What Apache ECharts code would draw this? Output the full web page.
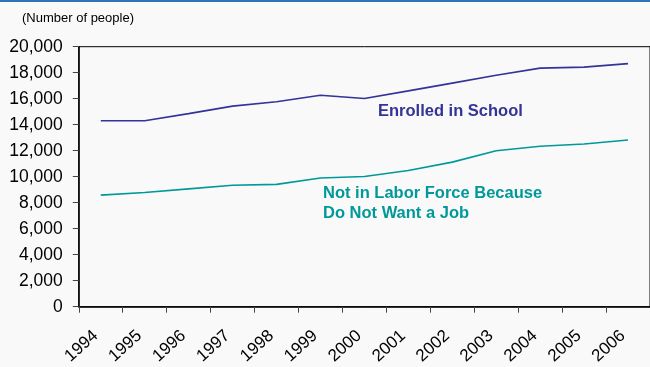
<!DOCTYPE html>
<html>
<head>
<meta charset="utf-8">
<script src="https://cdn.jsdelivr.net/npm/echarts@6/dist/echarts.min.js"></script>
<style>
html,body{margin:0;padding:0;background:#f9f9f9;}
#c{width:650px;height:367px;}
</style>
</head>
<body>
<div id="c"></div>
<script>
const years = ['1994','1995','1996','1997','1998','1999','2000','2001','2002','2003','2004','2005','2006'];
const enrolled = [14300, 14300, 14850, 15430, 15770, 16270, 16020, 16600, 17200, 17800, 18350, 18430, 18700];
const notWant = [8580, 8780, 9060, 9340, 9410, 9900, 10020, 10480, 11120, 12000, 12340, 12510, 12820];
const yTicks = [0, 2000, 4000, 6000, 8000, 10000, 12000, 14000, 16000, 18000, 20000];
const unitLabel = '(Number of people)';
const enrolledLabel = 'Enrolled in School';
const notWantLabel = 'Not in Labor Force Because\nDo Not Want a Job';

const FONT = '"Liberation Sans", Arial, sans-serif';
const chart = echarts.init(document.getElementById('c'));
chart.setOption({
  backgroundColor: '#f9f9f9',
  animation: false,
  grid: {left: 78.8, top: 46.7, right: -5, bottom: 57.7, show: true, borderColor: '#000', borderWidth: 1, backgroundColor: 'transparent'},
  xAxis: {
    type: 'category', data: years, boundaryGap: true,
    axisLine: {lineStyle: {color: '#000', width: 1.5}},
    axisTick: {show: true, length: 6, lineStyle: {color: '#444'}},
    axisLabel: {rotate: 42, margin: 22, padding: [0, 7, 0, 0], color: '#000', fontFamily: FONT, fontSize: 17, interval: 0}
  },
  yAxis: {
    type: 'value', min: yTicks[0], max: yTicks[yTicks.length - 1], interval: 2000,
    axisLine: {show: true, lineStyle: {color: '#000', width: 1.5}},
    axisTick: {show: true, length: 6, lineStyle: {color: '#444'}},
    splitLine: {show: false},
    axisLabel: {margin: 16, color: '#000', fontFamily: FONT, fontSize: 17.5,
      formatter: v => v.toLocaleString('en-US')}
  },
  series: [
    {type: 'line', data: enrolled, symbol: 'none', lineStyle: {color: '#333399', width: 1.6}},
    {type: 'line', data: notWant, symbol: 'none', lineStyle: {color: '#009999', width: 1.6}}
  ],
  graphic: [
    {type: 'rect', left: 0, top: 0, shape: {width: 650, height: 2}, style: {fill: '#2f74b5'}},
    {type: 'text', left: 22, top: 12, style: {text: unitLabel, fill: '#000', font: '13px ' + FONT}},
    {type: 'text', left: 378, top: 103, style: {text: enrolledLabel, fill: '#333399', font: 'bold 16.5px ' + FONT}},
    {type: 'text', left: 323, top: 183, style: {text: notWantLabel, fill: '#009999', font: 'bold 16.5px ' + FONT, lineHeight: 20}}
  ]
});
</script>
</body>
</html>
